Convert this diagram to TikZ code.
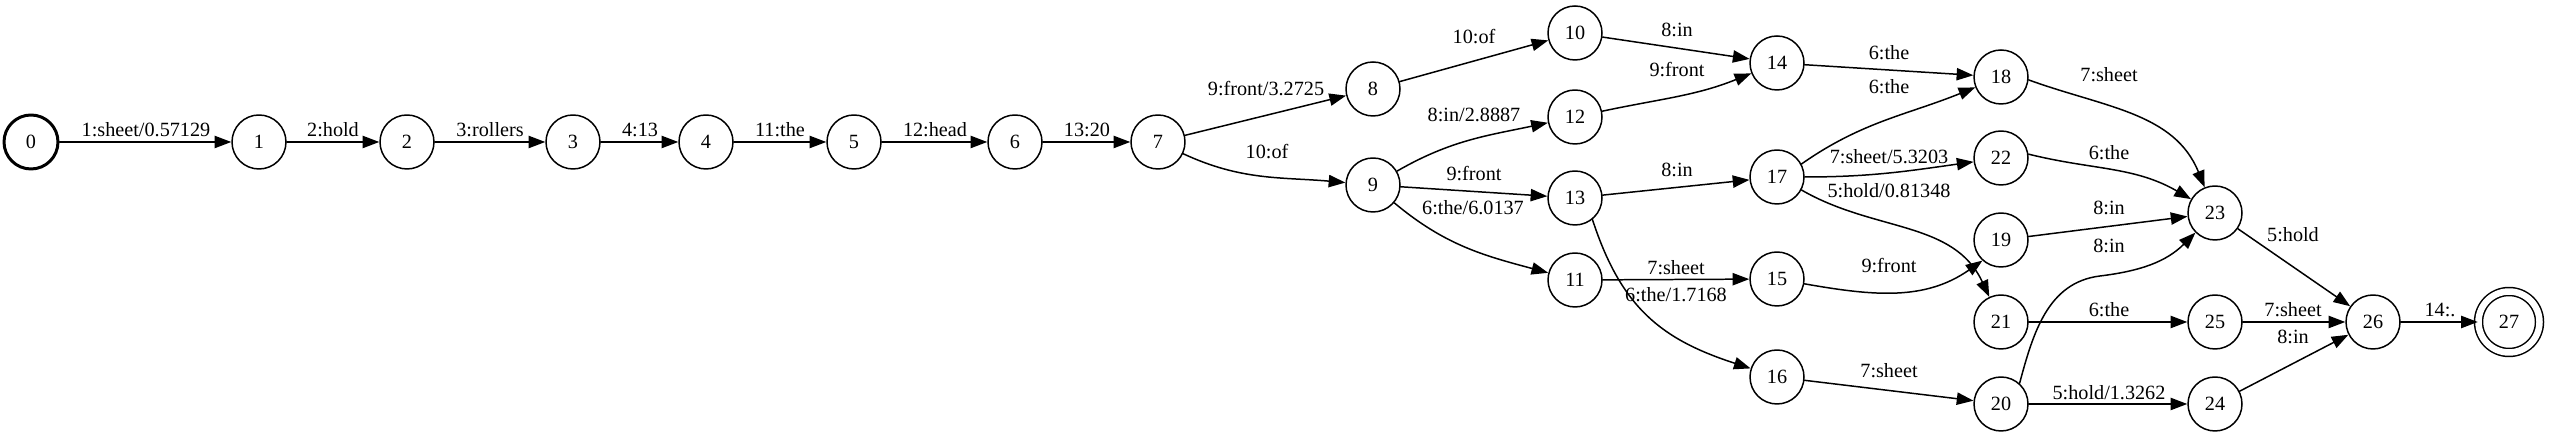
\documentclass[tikz,border=0pt]{standalone}
\usepackage{fontspec}
\setmainfont{Liberation Serif}
\usetikzlibrary{arrows.meta}
\begin{document}
\begin{tikzpicture}[line cap=round,line join=round,>={Triangle[length=9.5pt,width=7pt]},x=.02cm,y=.02cm,
	st/.style={circle,draw,line width=.85pt,minimum size=1.08cm,inner sep=0pt,font=\fontsize{11.5}{13}\selectfont},
	lab/.style={inner sep=0pt,yshift=.04cm,font=\fontsize{11.5}{13}\selectfont},
	tr/.style={->,line width=.85pt}]
	\useasboundingbox (0,0) rectangle (2550,438);
	\node[st,line width=1.7pt] (0) at (31,296) {0};
	\node[st] (1) at (259,296) {1};
	\node[st] (2) at (407,296) {2};
	\node[st] (3) at (573,296) {3};
	\node[st] (4) at (706,296) {4};
	\node[st] (5) at (854,296) {5};
	\node[st] (6) at (1015,296) {6};
	\node[st] (7) at (1158,296) {7};
	\node[st] (8) at (1373,349) {8};
	\node[st] (9) at (1373,253) {9};
	\node[st] (10) at (1575,405) {10};
	\node[st] (12) at (1575,321) {12};
	\node[st] (13) at (1575,240) {13};
	\node[st] (11) at (1575,158) {11};
	\node[st] (14) at (1777,375) {14};
	\node[st] (17) at (1777,261) {17};
	\node[st] (15) at (1777,159) {15};
	\node[st] (16) at (1777,61) {16};
	\node[st] (18) at (2001,361) {18};
	\node[st] (22) at (2001,280) {22};
	\node[st] (19) at (2001,198) {19};
	\node[st] (21) at (2001,116) {21};
	\node[st] (20) at (2001,34) {20};
	\node[st] (23) at (2215,225) {23};
	\node[st] (25) at (2215,116) {25};
	\node[st] (24) at (2215,34) {24};
	\node[st] (26) at (2373,116) {26};
	\node[st,double,double distance=.13cm,minimum size=1.22cm] (27) at (2509,116) {27};
	\draw[tr] (0) -- (1) node[lab] at (146,306) {1:sheet/0.57129};
	\draw[tr] (1) -- (2) node[lab] at (333,306) {2:hold};
	\draw[tr] (2) -- (3) node[lab] at (490,306) {3:rollers};
	\draw[tr] (3) -- (4) node[lab] at (640,306) {4:13};
	\draw[tr] (4) -- (5) node[lab] at (780,306) {11:the};
	\draw[tr] (5) -- (6) node[lab] at (935,306) {12:head};
	\draw[tr] (6) -- (7) node[lab] at (1087,306) {13:20};
	\draw[tr] (7) -- (8) node[lab] at (1266,347) {9:front/3.2725};
	\draw[tr] (7) to[out=-25,in=175] (9) node[lab] at (1267,284) {10:of};
	\draw[tr] (8) -- (10) node[lab] at (1474,399) {10:of};
	\draw[tr] (9) to[out=30,in=192] (12) node[lab] at (1474,321) {8:in/2.8887};
	\draw[tr] (9) -- (13) node[lab] at (1474,262) {9:front};
	\draw[tr] (9) to[out=-40,in=165] (11) node[lab] at (1473,228) {6:the/6.0137};
	\draw[tr] (10) -- (14) node[lab] at (1677,406) {8:in};
	\draw[tr] (12) to[out=12,in=202] (14) node[lab] at (1677,366) {9:front};
	\draw[tr] (13) -- (17) node[lab] at (1677,266) {8:in};
	\draw[tr] (11) -- (15) node[lab] at (1676,168) {7:sheet};
	\draw[tr] (13.-51) to[out=-72,in=162,looseness=1.1] (16) node[lab] at (1676,141) {6:the/1.7168};
	\draw[tr] (14) -- (18) node[lab] at (1889,383) {6:the};
	\draw[tr] (17.28) to[out=35,in=202] (18) node[lab] at (1889,349) {6:the};
	\draw[tr] (17) to[out=0,in=188] (22) node[lab] at (1889,279) {7:sheet/5.3203};
	\draw[tr] (17.-28) to[out=-30,in=115] (21) node[lab] at (1889,245) {5:hold/0.81348};
	\draw[tr] (15) to[out=-10,in=215] (19.228) node[lab] at (1889,170) {9:front};
	\draw[tr] (16) -- (20) node[lab] at (1889,65) {7:sheet};
	\draw[tr] (18.-6) to[out=-20,in=112] (23) node[lab] at (2109,361) {7:sheet};
	\draw[tr] (22.8) to[out=-14,in=150] (23) node[lab] at (2109,283) {6:the};
	\draw[tr] (19) -- (23) node[lab] at (2109,228) {8:in};
	\draw[tr] (20.48) to[out=75,in=187] (2100,162) to[out=7,in=225] (23) node[lab] at (2109,190) {8:in};
	\draw[tr] (21) -- (25) node[lab] at (2109,126) {6:the};
	\draw[tr] (20) -- (24) node[lab] at (2109,43) {5:hold/1.3262};
	\draw[tr] (23) -- (26) node[lab] at (2293,201) {5:hold};
	\draw[tr] (25) -- (26) node[lab] at (2293,126) {7:sheet};
	\draw[tr] (24) -- (26) node[lab] at (2293,99) {8:in};
	\draw[tr] (26) -- (27) node[lab] at (2440,126) {14:.};
\end{tikzpicture}
\end{document}
